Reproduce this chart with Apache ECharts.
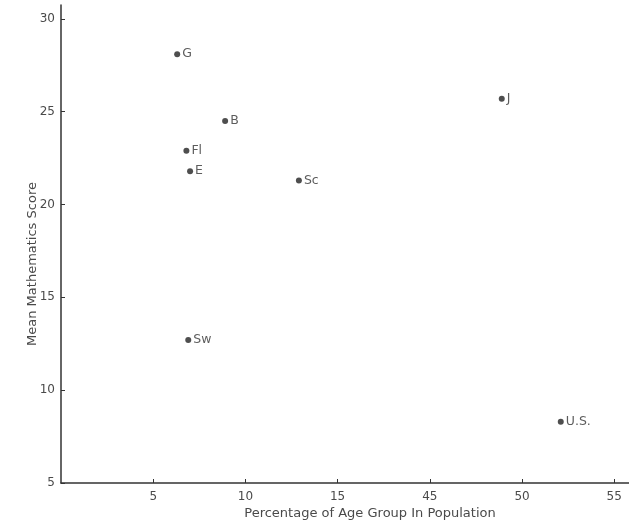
<!DOCTYPE html>
<html>
<head>
<meta charset="utf-8">
<script src="https://cdn.jsdelivr.net/npm/echarts@6/dist/echarts.min.js"></script>
<style>html,body{margin:0;padding:0;background:#fff;}#c{width:629px;height:526px;}</style>
</head>
<body>
<div id="c"></div>
<script>
// Data (x = percentage of age group in population, y = mean mathematics score)
const countries = ['G', 'B', 'Fl', 'E', 'Sc', 'Sw', 'J', 'U.S.'];
const pctAgeGroup = [6.3, 8.9, 6.8, 7.0, 12.9, 6.9, 48.9, 52.1];
const mathScore = [28.1, 24.5, 22.9, 21.8, 21.3, 12.7, 25.7, 8.3];
const xTickLabels = [5, 10, 15, 45, 50, 55];
const yTickLabels = [5, 10, 15, 20, 25, 30];
// Broken x-axis: values from 45 upward are drawn right after 15 (gap of one tick step)
const BREAK_LO = 15, BREAK_HI = 45, STEP = 5;
const SHIFT = BREAK_HI - BREAK_LO - STEP;
const toAxis = v => (v >= BREAK_HI ? v - SHIFT : v);
const fromAxis = v => (v > BREAK_LO ? v + SHIFT : v);

const FONT = 'DejaVu Sans';
const TXT = '#4a4a4a';
const chart = echarts.init(document.getElementById('c'), null, {renderer: 'canvas'});
chart.setOption({
  backgroundColor: '#fff',
  animation: false,
  grid: {left: 61, right: 0, top: 5, bottom: 43, containLabel: false},
  xAxis: {
    type: 'value', min: 0, max: 30.8,
    name: 'Percentage of Age Group In Population',
    nameLocation: 'middle', nameGap: 24, nameMoveOverlap: false,
    nameTextStyle: {fontFamily: FONT, fontSize: 13, color: TXT, padding: [0, 0, 0, 50]},
    axisLine: {show: true, onZero: false, lineStyle: {color: '#333', width: 1.5}},
    axisTick: {show: true, inside: true, length: 4, lineStyle: {color: '#333'},
      customValues: xTickLabels.map(toAxis)},
    axisLabel: {fontFamily: FONT, fontSize: 12, color: TXT, margin: 8,
      customValues: xTickLabels.map(toAxis), formatter: v => String(fromAxis(v))},
    splitLine: {show: false}
  },
  yAxis: {
    type: 'value', min: 5, max: 30.75,
    name: 'Mean Mathematics Score',
    nameLocation: 'middle', nameGap: 22, nameMoveOverlap: false,
    nameTextStyle: {fontFamily: FONT, fontSize: 13, color: TXT, padding: [0, 40, 0, 0]},
    axisLine: {show: true, onZero: false, lineStyle: {color: '#333', width: 1.5}},
    axisTick: {show: true, inside: true, length: 4, lineStyle: {color: '#333'},
      customValues: yTickLabels},
    axisLabel: {fontFamily: FONT, fontSize: 12, color: TXT, margin: 6,
      customValues: yTickLabels},
    splitLine: {show: false}
  },
  series: [{
    type: 'scatter',
    symbol: 'circle', symbolSize: 6,
    itemStyle: {color: '#222'},
    label: {show: true, position: 'right', distance: 2, formatter: '{b}',
      fontFamily: FONT, fontSize: 12.5, color: '#333'},
    data: countries.map((n, i) => ({name: n, value: [toAxis(pctAgeGroup[i]), mathScore[i]]}))
  }]
});
</script>
</body>
</html>
